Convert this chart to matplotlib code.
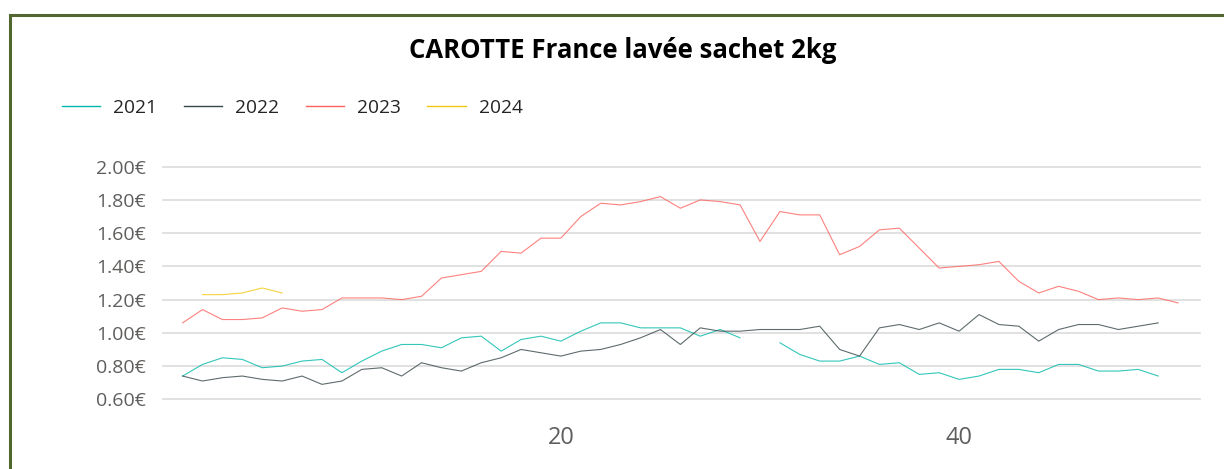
import numpy as np
import matplotlib
matplotlib.use("Agg")
import matplotlib.pyplot as plt
from matplotlib.patches import Rectangle
from matplotlib.ticker import FuncFormatter

plt.rcParams['font.family'] = ['Open Sans', 'DejaVu Sans']

title = "CAROTTE France lavée sachet 2kg"
years = ["2021", "2022", "2023", "2024"]
colors = ["#01B8AA", "#374649", "#FD625E", "#F2C80F"]

v2021 = [0.74, 0.81, 0.85, 0.84, 0.79, 0.80, 0.83, 0.84, 0.76, 0.83,
         0.89, 0.93, 0.93, 0.91, 0.97, 0.98, 0.89, 0.96, 0.98, 0.95,
         1.01, 1.06, 1.06, 1.03, 1.03, 1.03, 0.98, 1.02, 0.97, None,
         0.94, 0.87, 0.83, 0.83, 0.86, 0.81, 0.82, 0.75, 0.76, 0.72,
         0.74, 0.78, 0.78, 0.76, 0.81, 0.81, 0.77, 0.77, 0.78, 0.74]
v2022 = [0.74, 0.71, 0.73, 0.74, 0.72, 0.71, 0.74, 0.69, 0.71, 0.78,
         0.79, 0.74, 0.82, 0.79, 0.77, 0.82, 0.85, 0.90, 0.88, 0.86,
         0.89, 0.90, 0.93, 0.97, 1.02, 0.93, 1.03, 1.01, 1.01, 1.02,
         1.02, 1.02, 1.04, 0.90, 0.86, 1.03, 1.05, 1.02, 1.06, 1.01,
         1.11, 1.05, 1.04, 0.95, 1.02, 1.05, 1.05, 1.02, 1.04, 1.06]
v2023 = [1.06, 1.14, 1.08, 1.08, 1.09, 1.15, 1.13, 1.14, 1.21, 1.21,
         1.21, 1.20, 1.22, 1.33, 1.35, 1.37, 1.49, 1.48, 1.57, 1.57,
         1.70, 1.78, 1.77, 1.79, 1.82, 1.75, 1.80, 1.79, 1.77, 1.55,
         1.73, 1.71, 1.71, 1.47, 1.52, 1.62, 1.63, 1.51, 1.39, 1.40,
         1.41, 1.43, 1.31, 1.24, 1.28, 1.25, 1.20, 1.21, 1.20, 1.21, 1.18]
v2024 = [None, 1.23, 1.23, 1.24, 1.27, 1.24]

series = [v2021, v2022, v2023, v2024]
yticks = [0.60, 0.80, 1.00, 1.20, 1.40, 1.60, 1.80, 2.00]
xticks = [20, 40]

W, H = 1224, 469
fig = plt.figure(figsize=(W / 100, H / 100), dpi=100)
fig.patch.set_facecolor("white")

# outer frame (only top and left visible)
fig.add_artist(Rectangle((9.5 / W, -0.1), 1.2, (H - 15.5) / H + 0.1,
                         transform=fig.transFigure, fill=False,
                         edgecolor="#51672F", linewidth=2.2))

ax = fig.add_axes([162.7 / W, 69.7 / H, (1200 - 162.7) / W, (399.3 - 166.7) / H])
for vals, c, lab in zip(series, colors, years):
    y = np.array([np.nan if v is None else v for v in vals], dtype=float)
    x = np.arange(1, len(y) + 1)
    ax.plot(x, y, color=c, lw=0.8, alpha=0.8, label=lab)

ax.set_xlim(0, 52.1)
ax.set_ylim(0.60, 2.00)
ax.set_yticks(yticks)
ax.set_xticks(xticks)
ax.yaxis.set_major_formatter(FuncFormatter(lambda v, p: f"{v:.2f}€"))
ax.grid(axis="y", color="#DEDEDE", linewidth=1.3)
ax.grid(axis="x", visible=False)
for gl in ax.get_ygridlines():
    gl.set_clip_on(False)
ax.set_axisbelow(True)
for s in ax.spines.values():
    s.set_visible(False)
ax.tick_params(axis="y", length=0, pad=12, labelsize=14, labelcolor="#605E5C")
ax.tick_params(axis="x", length=0, pad=19, labelsize=17, labelcolor="#605E5C")

fig.text(623 / W, 1 - 51 / H, title, ha="center", va="center",
         fontsize=18.5, fontweight="bold", color="#000000")

leg = fig.legend(loc="center left", bbox_to_anchor=(62 / W, 1 - 108 / H),
                 ncol=4, frameon=False, fontsize=13.8, borderpad=0,
                 borderaxespad=0, handlelength=2.0, handletextpad=0.68,
                 columnspacing=1.38)
for t in leg.get_texts():
    t.set_color("#252423")
for h in leg.get_lines():
    h.set_linewidth(1.0)
    h.set_alpha(1.0)

fig.savefig("out.png", dpi=100)
